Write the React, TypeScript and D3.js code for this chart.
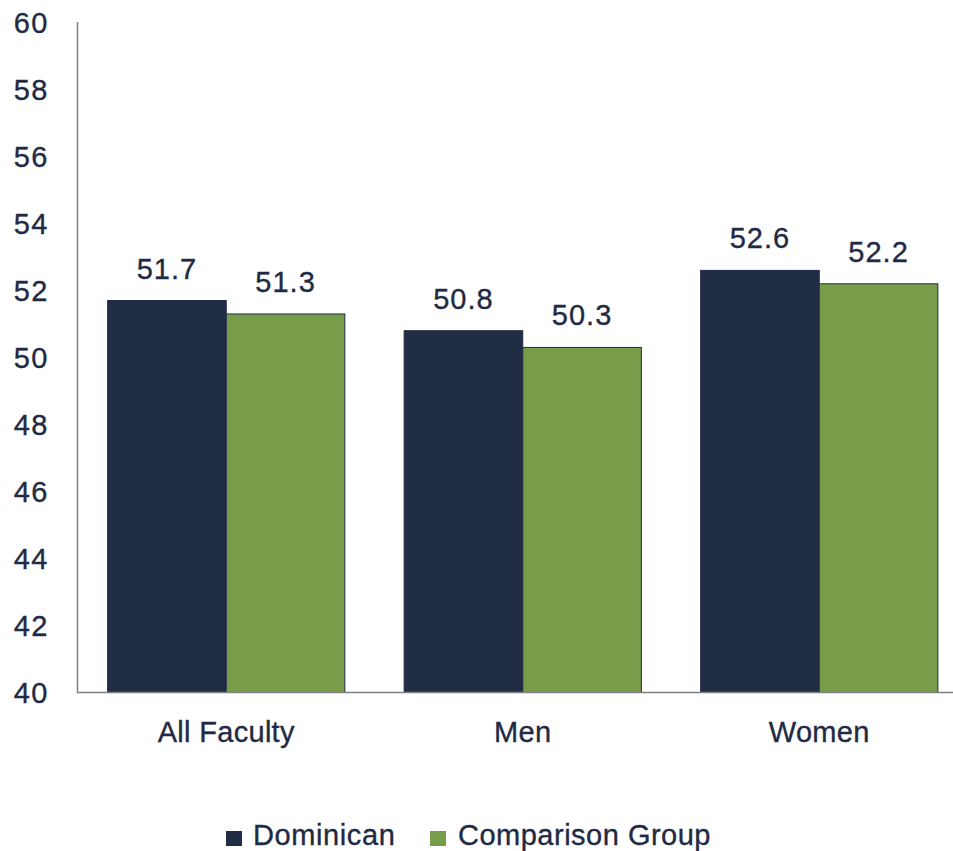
import React from "react";
import * as d3 from "d3";

const categories = ["All Faculty", "Men", "Women"];
const seriesNames = ["Dominican", "Comparison Group"];
const dominican = [51.7, 50.8, 52.6];
const comparison = [51.3, 50.3, 52.2];
const yTicks = [40, 42, 44, 46, 48, 50, 52, 54, 56, 58, 60];

const W = 953;
const H = 851;
const colors = ["#212c45", "#789d4a"];
const textColor = "#1f2a44";
const font = "'Liberation Sans', Arial, sans-serif";

export default function App() {
  const x = d3.scaleBand<string>().domain(categories).range([78, 967.5]).paddingInner(0).paddingOuter(0);
  const inner = d3.scaleBand<number>().domain([0, 1]).range([0, x.bandwidth()]).paddingInner(0).paddingOuter(0.25);
  const y = d3.scaleLinear().domain([40, 60]).range([692.5, 22.5]);
  const series = [dominican, comparison];
  const txt = { fill: textColor, stroke: textColor, strokeWidth: 0.35 };

  return (
    <svg width={W} height={H} style={{ position: "absolute", left: 0, top: 0, background: "#fff" }} fontFamily={font}>
      {yTicks.map((t) => (
        <text key={t} x={49} y={y(t)} dy="0.36em" textAnchor="end" fontSize={29} letterSpacing={1.5} {...txt}>
          {t}
        </text>
      ))}
      {categories.map((c, ci) =>
        series.map((s, si) => {
          const bx = (x(c) as number) + (inner(si) as number);
          const bw = inner.bandwidth();
          const v = s[ci];
          return (
            <g key={c + si}>
              <rect x={bx} y={y(v)} width={bw} height={y(40) - y(v)} fill={colors[si]} stroke="#1f2a44" strokeWidth={1} />
              <text x={bx + bw / 2} y={y(v) - 22} textAnchor="middle" fontSize={29} letterSpacing={1} {...txt}>
                {v.toFixed(1)}
              </text>
            </g>
          );
        })
      )}
      <line x1={77.5} x2={77.5} y1={22} y2={693} stroke="#7f7f7f" strokeWidth={1.5} />
      <line x1={77} x2={W} y1={692.5} y2={692.5} stroke="#7f7f7f" strokeWidth={1.5} />
      {categories.map((c) => (
        <text key={c} x={(x(c) as number) + x.bandwidth() / 2} y={742} textAnchor="middle" fontSize={29} letterSpacing={0.3} {...txt}>
          {c}
        </text>
      ))}
      <g>
        <rect x={226} y={831} width={16} height={15} fill={colors[0]} />
        <text x={253} y={845} fontSize={29} letterSpacing={0.6} {...txt}>{seriesNames[0]}</text>
        <rect x={430} y={831} width={16} height={15} fill={colors[1]} />
        <text x={458} y={845} fontSize={29} letterSpacing={0.5} {...txt}>{seriesNames[1]}</text>
      </g>
    </svg>
  );
}
